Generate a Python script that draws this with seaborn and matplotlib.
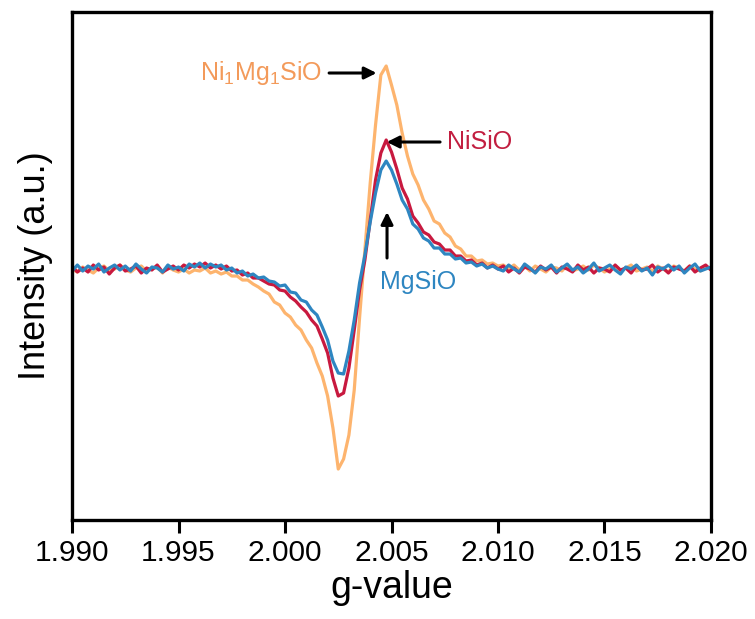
import numpy as np
import pandas as pd
import matplotlib
matplotlib.use("Agg")
import matplotlib.pyplot as plt
import seaborn as sns

# ---------------- data ----------------
g_start, g_step, n_pts = 1.990, 0.00025, 121
g_values = np.round(g_start + g_step * np.arange(n_pts), 5)

ni1mg1sio = [0, -3, 2, -1, -4, 1, 3, -2, 0, 4, -1, -3, 1, 3, -2, 0, 2, -4, 2, -1,
             -3, 0, -4, -1, -2, 1, -4, -2, -5, -3, -7, -7, -11, -11, -15, -18,
             -22, -25, -33, -36, -44, -48, -56, -61, -71, -79, -94, -107, -127, -159,
             -200, -190, -166, -121, -49, 19, 86, 144, 194, 203, 184, 164, 136, 113,
             95, 84, 69, 60, 48, 45, 36, 32, 23, 20, 13, 13, 8, 9, 5, 6, 3,
             4, 0, 4, -1, 3, -2, 3, 0, -3, 2, 1, -2, 4, -2, 0, 3, -1, 4, 1, -3,
             0, 3, -2, 1, 4, -2, 0, 2, -2, 3, 0, -3, 3, 1, -2, 3, 0, -2, 1, 0]

nisio = [3, -3, 1, -3, 4, -1, 2, -5, 1, 4, -2, 0, 3, -4, 1, -1, 4, -3, 0, 3,
         -1, 4, 1, 5, 2, 6, 1, 4, 0, 3, -2, -1, -6, -4, -9, -9,
         -12, -15, -16, -21, -22, -28, -32, -38, -43, -51, -57, -70, -84, -109,
         -127, -124, -99, -61, -21, 9, 49, 89, 116, 129, 117, 100, 81, 70,
         53, 46, 37, 34, 27, 25, 19, 19, 13, 13, 8, 9, 4, 6, 1, 4, 0,
         3, -3, 1, -4, 2, 0, -3, 3, -1, 2, -4, 2, 0, -3, 4, -1, 2, -4, 1, 0,
         -3, 4, -1, 1, -4, 3, -1, 0, 4, -3, 1, -4, 2, 0, -2, 3, -3, 1, 4, -1]

mgsio = [-2, 4, -2, 3, 0, 5, -3, 1, 4, -1, 3, -2, 5, 0, -4, 2, 1, -3, 4, 0,
         2, -2, 5, 2, 6, 1, 5, 2, 4, -1, 1, -4, -2, -7, -5, -9,
         -8, -12, -13, -17, -16, -23, -24, -31, -33, -41, -46, -58, -71, -92,
         -104, -105, -82, -51, -14, 14, 47, 76, 99, 108, 99, 85, 69, 60,
         45, 40, 31, 28, 21, 21, 15, 15, 10, 11, 6, 7, 3, 5, 1, 3, 0,
         -2, 4, 0, -3, 5, 1, -4, 2, 0, 4, -3, 1, 5, -1, 2, -4, 0, 6, -2, 1,
         4, -1, -5, 2, 0, 4, -2, 1, -6, 2, 0, 4, -1, 3, -4, 1, 5, -2, 0, 2]

series_names = ["Ni1Mg1SiO", "NiSiO", "MgSiO"]
series_colors = {"Ni1Mg1SiO": "#FDB46E", "NiSiO": "#C8193F", "MgSiO": "#2E86C1"}
x_ticks = [1.990, 1.995, 2.000, 2.005, 2.010, 2.015, 2.020]
x_tick_labels = ["1.990", "1.995", "2.000", "2.005", "2.010", "2.015", "2.020"]

df = pd.DataFrame({
    "g": np.concatenate([g_values] * 3),
    "I": np.concatenate([ni1mg1sio, nisio, mgsio]),
    "sample": np.repeat(series_names, n_pts),
})

# ---------------- plot ----------------
sns.set_theme(style="white")
plt.rcParams["font.family"] = ["Liberation Sans", "DejaVu Sans"]
plt.rcParams["text.color"] = "black"
plt.rcParams["axes.labelcolor"] = "black"
plt.rcParams["xtick.color"] = "black"

fig = plt.figure(figsize=(7.55, 6.19), dpi=100)
ax = fig.add_axes([0.0954, 0.1599, 0.8463, 0.8207])

sns.lineplot(data=df, x="g", y="I", hue="sample", hue_order=series_names,
             palette=series_colors, estimator=None, sort=False, lw=2.3,
             legend=False, ax=ax)

ax.set_xlim(1.990, 2.020)
ax.set_ylim(-251, 257)
ax.set_xticks(x_ticks)
ax.set_xticklabels(x_tick_labels)
ax.set_yticks([])
ax.set_xlabel("g-value", fontsize=27, labelpad=2, color="black")
ax.set_ylabel("Intensity (a.u.)", fontsize=26, labelpad=14, color="black")
ax.tick_params(axis="x", which="both", bottom=True, direction="out",
               length=9, width=2.2, labelsize=21.5, pad=5, color="black",
               labelcolor="black")
for s in ax.spines.values():
    s.set_linewidth(2.4)
    s.set_color("black")

arrow_kw = dict(arrowstyle="-|>", color="black", lw=2.2, mutation_scale=18,
                shrinkA=0, shrinkB=0)
ax.annotate("", xy=(2.00430, 196), xytext=(2.00207, 196), arrowprops=arrow_kw)
ax.annotate("", xy=(2.00478, 127), xytext=(2.00728, 127), arrowprops=arrow_kw)
ax.annotate("", xy=(2.00479, 57), xytext=(2.00479, 11), arrowprops=arrow_kw)

ax.text(2.00174, 196, r"Ni$_\mathregular{1}$Mg$_\mathregular{1}$SiO",
        color="#F39A5A", fontsize=18, ha="right", va="center")
ax.text(2.00760, 127, "NiSiO", color="#C21E40", fontsize=18,
        ha="left", va="center")
ax.text(2.00624, -13, "MgSiO", color="#2E86C1", fontsize=18,
        ha="center", va="center")

fig.savefig("out.png", dpi=100)
